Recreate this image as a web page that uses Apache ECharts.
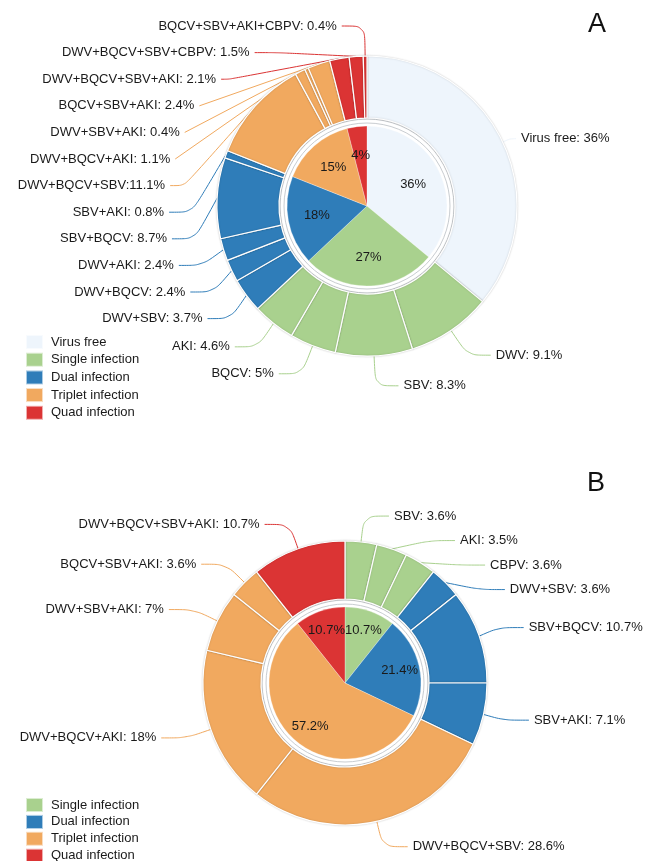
<!DOCTYPE html>
<html>
<head>
<meta charset="utf-8">
<script src="https://cdn.jsdelivr.net/npm/echarts@6/dist/echarts.min.js"></script>
<style>html,body{margin:0;padding:0;background:#fff;}#c{width:645px;height:861px;}</style>
</head>
<body>
<div id="c"></div>
<script>
// ---------- data ----------
const groupNames = ['Virus free', 'Single infection', 'Dual infection', 'Triplet infection', 'Quad infection'];
const groupColors = ['#eef5fc', '#a9d18e', '#2f7db9', '#f1a95f', '#db3434'];

// Panel A
const innerValuesA = [36, 27, 18, 15, 4];
const outerNamesA = ['Virus free', 'DWV', 'SBV', 'BQCV', 'AKI',
  'DWV+SBV', 'DWV+BQCV', 'DWV+AKI', 'SBV+BQCV', 'SBV+AKI',
  'DWV+BQCV+SBV', 'DWV+BQCV+AKI', 'DWV+SBV+AKI', 'BQCV+SBV+AKI',
  'DWV+BQCV+SBV+AKI', 'DWV+BQCV+SBV+CBPV', 'BQCV+SBV+AKI+CBPV'];
const outerValuesA = [36, 9.1, 8.3, 5, 4.6, 3.7, 2.4, 2.4, 8.7, 0.8, 11.1, 1.1, 0.4, 2.4, 2.1, 1.5, 0.4];
const outerGroupA = [0, 1, 1, 1, 1, 2, 2, 2, 2, 2, 3, 3, 3, 3, 4, 4, 4];

// Panel B (groups 1..4)
const innerGroupB = [1, 2, 3, 4];
const innerValuesB = [10.7, 21.4, 57.2, 10.7];
const outerNamesB = ['SBV', 'AKI', 'CBPV', 'DWV+SBV', 'SBV+BQCV', 'SBV+AKI',
  'DWV+BQCV+SBV', 'DWV+BQCV+AKI', 'DWV+SBV+AKI', 'BQCV+SBV+AKI', 'DWV+BQCV+SBV+AKI'];
const outerValuesB = [3.6, 3.5, 3.6, 3.6, 10.7, 7.1, 28.6, 18, 7, 3.6, 10.7];
const outerGroupB = [1, 1, 1, 2, 2, 2, 3, 3, 3, 3, 4];

// ---------- build ----------
const FONT = 'Liberation Sans, Arial, sans-serif';
const txt = '#1a1a1a';

function innerData(groups, values) {
  return values.map((v, i) => ({ name: groupNames[groups[i]], value: v, itemStyle: { color: groupColors[groups[i]] } }));
}
function outerData(names, values, groups) {
  return values.map((v, i) => {
    const d = { name: names[i], value: v, itemStyle: { color: groupColors[groups[i]] } };
    if (groups[i] === 0) d.labelLine = { length: 8, length2: 6 };
    return d;
  });
}
function labelData(values) {
  return values.map(v => ({ value: v }));
}

function panel(id, center, rInner, ring, rOuter, inData, inValues, outData, labelR0, outLabelCfg, fmt) {
  return [
    {
      id: id + 'inner', type: 'pie', center: center, radius: [0, rInner],
      startAngle: 90, clockwise: true, silent: true,
      label: { show: false }, labelLine: { show: false },
      itemStyle: { borderColor: 'rgba(255,255,255,0.6)', borderWidth: 0.5 },
      data: inData
    },
    {
      id: id + 'innerLabel', type: 'pie', center: center, radius: [labelR0, rInner],
      startAngle: 90, clockwise: true, silent: true,
      itemStyle: { color: 'rgba(0,0,0,0)' },
      label: { show: true, position: 'inner', formatter: p => p.value + '%', color: txt, fontSize: 13, fontFamily: FONT },
      labelLine: { show: false },
      data: labelData(inValues)
    },
    {
      id: id + 'ring', type: 'pie', center: center, radius: ring,
      silent: true, label: { show: false }, labelLine: { show: false },
      itemStyle: { color: '#ffffff', borderColor: '#c9cdd1', borderWidth: 1 },
      data: [{ value: 1 }]
    },
    {
      id: id + 'outer', type: 'pie', center: center, radius: [ring[1] + 1, rOuter],
      startAngle: 90, clockwise: true, silent: true,
      avoidLabelOverlap: true,
      itemStyle: { borderColor: '#ffffff', borderWidth: 1.2, shadowBlur: 2, shadowColor: 'rgba(0,0,0,0.18)' },
      label: Object.assign({ show: true, position: 'outside', formatter: fmt, color: txt, fontSize: 13,
        fontFamily: FONT, overflow: 'none' }, outLabelCfg.label),
      labelLine: Object.assign({ show: true, smooth: true, lineStyle: { width: 1 } }, outLabelCfg.line),
      data: outData
    }
  ];
}

const seriesA = panel('A', [367, 206], 80, [83, 87], 150,
  innerData([0, 1, 2, 3, 4], innerValuesA), innerValuesA,
  outerData(outerNamesA, outerValuesA, outerGroupA), 16,
  { label: { lineHeight: 24.6 }, line: { length: 30, length2: 23 } },
  p => p.name + (p.name === 'DWV+BQCV+SBV' ? ':' : ': ') + p.value + '%');

const seriesB = panel('B', [345, 683], 76, [79, 83], 142,
  innerData(innerGroupB, innerValuesB), innerValuesB,
  outerData(outerNamesB, outerValuesB, outerGroupB), 30,
  { label: { lineHeight: 22.5 }, line: { length: 26, length2: 25 } },
  p => p.name + ': ' + p.value + '%');

const legendText = { fontSize: 13, color: txt, fontFamily: FONT, lineHeight: 14, padding: [0, 0, 0, 3] };
const option = {
  animation: false,
  backgroundColor: '#ffffff',
  title: [
    { text: 'A', left: 583, top: 6, textStyle: { fontSize: 27, fontWeight: 'normal', color: '#111', fontFamily: FONT } },
    { text: 'B', left: 582, top: 465, textStyle: { fontSize: 27, fontWeight: 'normal', color: '#111', fontFamily: FONT } }
  ],
  legend: [
    { orient: 'vertical', left: 25, top: 334, height: 120, padding: 0, itemWidth: 17, itemHeight: 14, itemGap: 1.7, icon: 'rect',
      selectedMode: false, textStyle: legendText, data: groupNames },
    { orient: 'vertical', left: 25, top: 797, height: 120, padding: 0, itemWidth: 17, itemHeight: 14, itemGap: 0.9, icon: 'rect',
      selectedMode: false, textStyle: legendText, data: groupNames.slice(1) }
  ],
  series: seriesA.concat(seriesB)
};

const chart = echarts.init(document.getElementById('c'), null, { renderer: 'canvas' });
chart.setOption(option);
</script>
</body>
</html>
